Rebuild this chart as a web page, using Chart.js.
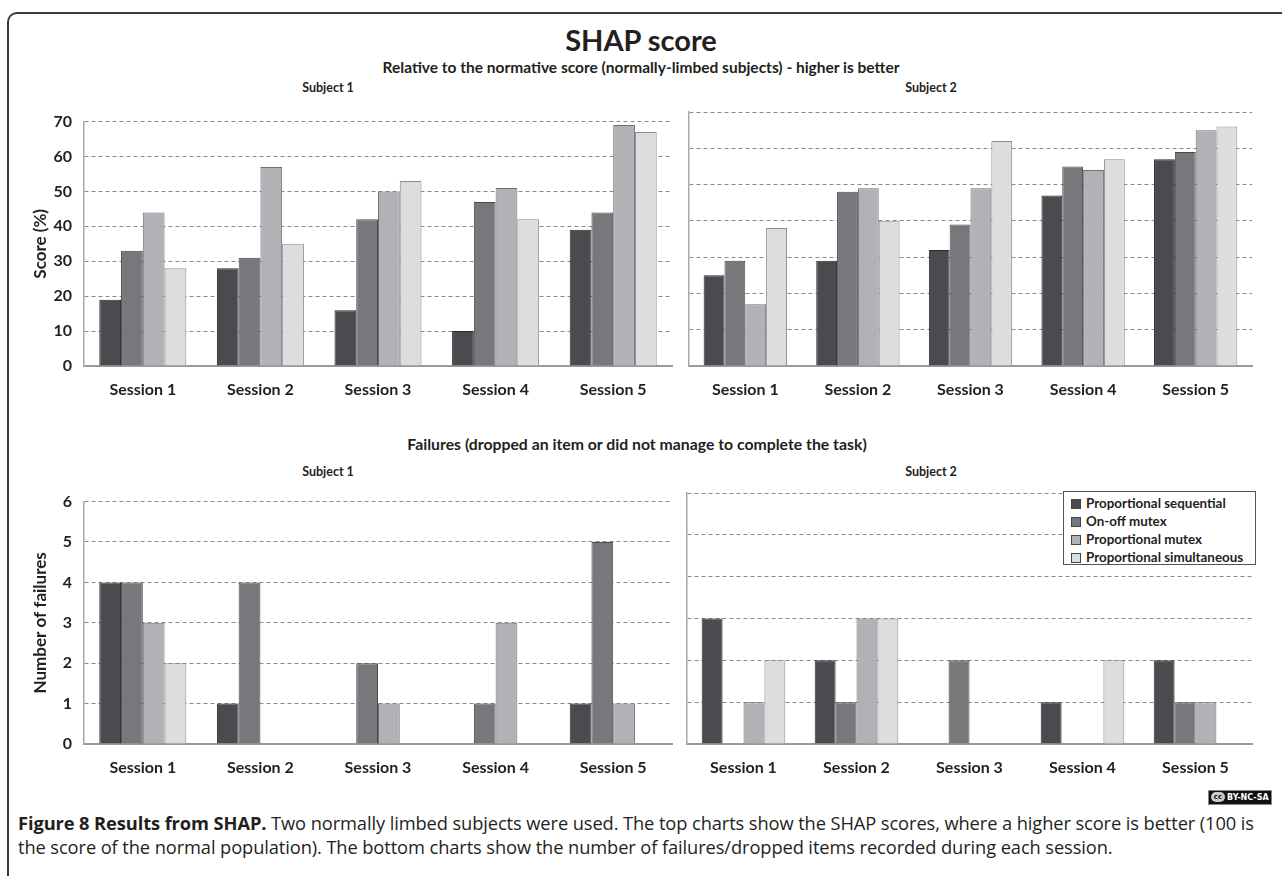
<!DOCTYPE html>
<html>
<head>
<meta charset="utf-8">
<script src="https://cdn.jsdelivr.net/npm/chart.js@4/dist/chart.umd.min.js"></script>
<style>
  html, body { margin: 0; padding: 0; background: #fff; }
  body { width: 1282px; height: 876px; position: relative; overflow: hidden; font-family: Lato, sans-serif; color: #231f20; }
  .frame { position: absolute; left: 7px; top: 12px; width: 1300px; height: 900px;
           border-top: 2px solid #3a3a3a; border-left: 2px solid #3a3a3a; border-top-left-radius: 10px; }
  .txt { position: absolute; white-space: nowrap; font-weight: bold; transform: translateX(-50%); }
  .box { position: absolute; }
  .cap { position: absolute; left: 18px; font-family: "Open Sans", sans-serif; font-size: 18.3px; color: #231f20; white-space: nowrap; letter-spacing: -0.1px; }
  .cc { position: absolute; left: 1208px; top: 790px; width: 64px; height: 15px; background: #111; color: #fff;
        font: bold 8px "DejaVu Sans", sans-serif; line-height: 13px; box-sizing: border-box; border: 1px solid #888; white-space: nowrap; overflow: hidden; }
  .cc span.c { display: inline-block; background: #ccc; color: #111; border-radius: 5px; width: 14px; height: 10px; line-height: 10px;
               text-align: center; margin: 1px 2px 0 2px; vertical-align: top; font-size: 7px; }
  .legend { position: absolute; left: 1063px; top: 491px; width: 193px; height: 74px; box-sizing: border-box;
            border: 1px solid #555; background: #fff; padding: 3px 0 0 7px; }
  .legend div { height: 18px; line-height: 18px; font: bold 13.4px Lato, sans-serif; white-space: nowrap; }
  .legend i { display: inline-block; width: 10px; height: 10px; box-sizing: border-box; border: 1px solid #444; margin-right: 5px; vertical-align: -1px; }
</style>
</head>
<body>
<div class="frame"></div>
<div class="txt" style="left:641px; top:22px; font-size:29px;">SHAP score</div>
<div class="txt" style="left:641px; top:58px; font-size:15.5px;">Relative to the normative score (normally-limbed subjects) - higher is better</div>
<div class="txt" style="left:328px; top:80px; font-size:12.5px;">Subject 1</div>
<div class="txt" style="left:931px; top:80px; font-size:12.5px;">Subject 2</div>
<div class="txt" style="left:637px; top:434px; font-size:15.8px;">Failures (dropped an item or did not manage to complete the task)</div>
<div class="txt" style="left:328px; top:464px; font-size:12.5px;">Subject 1</div>
<div class="txt" style="left:931px; top:464px; font-size:12.5px;">Subject 2</div>

<div class="box" style="left:10px; top:100px; width:670px; height:300px;"><canvas id="c1"></canvas></div>
<div class="box" style="left:680px; top:100px; width:580px; height:300px;"><canvas id="c2"></canvas></div>
<div class="box" style="left:10px; top:480px; width:670px; height:300px;"><canvas id="c3"></canvas></div>
<div class="box" style="left:680px; top:480px; width:580px; height:300px;"><canvas id="c4"></canvas></div>

<div class="legend" id="legend"></div>

<div class="cc"><span class="c">cc</span>BY-NC-SA</div>
<div class="cap" style="top:810px;"><b>Figure 8 Results from SHAP.</b> Two normally limbed subjects were used. The top charts show the SHAP scores, where a higher score is better (100 is</div>
<div class="cap" style="top:834px;">the score of the normal population). The bottom charts show the number of failures/dropped items recorded during each session.</div>

<script>
'use strict';

/* ─── Data ─── */
const sessions    = ['Session 1', 'Session 2', 'Session 3', 'Session 4', 'Session 5'];
const seriesNames = ['Proportional sequential', 'On-off mutex', 'Proportional mutex', 'Proportional simultaneous'];

// SHAP score (%) per series, Subject 1
const score1PropSeq = [19, 28, 16, 10, 39];
const score1OnOff   = [33, 31, 42, 47, 44];
const score1PropMut = [44, 57, 50, 51, 69];
const score1PropSim = [28, 35, 53, 42, 67];

// SHAP score (%) per series, Subject 2
const score2PropSeq = [25, 29, 32, 47, 57];
const score2OnOff   = [29, 48, 39, 55, 59];
const score2PropMut = [17, 49, 49, 54, 65];
const score2PropSim = [38, 40, 62, 57, 66];

// Failures per series, Subject 1
const fail1PropSeq = [4, 1, 0, 0, 1];
const fail1OnOff   = [4, 4, 2, 1, 5];
const fail1PropMut = [3, 0, 1, 3, 1];
const fail1PropSim = [2, 0, 0, 0, 0];

// Failures per series, Subject 2
const fail2PropSeq = [3, 2, 0, 1, 2];
const fail2OnOff   = [0, 1, 2, 0, 1];
const fail2PropMut = [1, 3, 0, 0, 1];
const fail2PropSim = [2, 3, 0, 2, 0];

/* ─── Styles ─── */
const fills   = ['#4a4b4e', '#77787c', '#b1b2b6', '#dcdddf'];
const borders = ['#2a2a2c', '#48494c', '#6f7073', '#8a8b8e'];
const FONT = 'Lato, sans-serif';
const TEXT = '#231f20';

function makeDatasets(lists) {
  return lists.map((data, i) => ({
    label: seriesNames[i],
    data,
    backgroundColor: fills[i],
    borderColor: borders[i],
    borderWidth: 1,
    categoryPercentage: 0.74,
    barPercentage: 1.0
  }));
}

function buildChart(id, lists, opts) {
  const ctx = document.getElementById(id).getContext('2d');
  return new Chart(ctx, {
    type: 'bar',
    data: { labels: sessions, datasets: makeDatasets(lists) },
    options: {
      responsive: true,
      maintainAspectRatio: false,
      animation: false,
      layout: { padding: { top: opts.padTop, right: 8, left: 0, bottom: 0 } },
      plugins: {
        legend: { display: false },
        tooltip: { enabled: false }
      },
      scales: {
        x: {
          grid: { display: false, drawTicks: false },
          border: { display: true, color: '#9a9a9a', width: 2 },
          ticks: { color: TEXT, padding: 14, font: { family: FONT, size: 16, weight: 'bold' } },
          afterFit: s => { s.height = opts.xHeight; }
        },
        y: {
          min: 0, max: opts.max,
          ticks: {
            display: opts.yLabels, stepSize: opts.step, padding: 12,
            color: TEXT, font: { family: FONT, size: 16, weight: 'bold' }
          },
          grid: { color: '#8a8a8a', lineWidth: 1, drawTicks: false },
          border: { display: true, color: '#a8a8a8', width: 1.5, dash: [4, 3] },
          title: opts.yTitle ? {
            display: true, text: opts.yTitle, color: TEXT, padding: { top: 20, bottom: 0 },
            font: { family: FONT, size: 17, weight: 'bold' }
          } : { display: false },
          afterFit: s => { s.width = opts.yWidth; }
        }
      }
    }
  });
}

const common1 = { max: 70, step: 10, padTop: 12, xHeight: 34 };
buildChart('c1', [score1PropSeq, score1OnOff, score1PropMut, score1PropSim],
  Object.assign({}, common1, { yLabels: true, yTitle: 'Score (%)', yWidth: 74 }));
buildChart('c2', [score2PropSeq, score2OnOff, score2PropMut, score2PropSim],
  Object.assign({}, common1, { yLabels: false, yWidth: 9 }));

const common2 = { max: 6, step: 1, padTop: 13, xHeight: 36 };
buildChart('c3', [fail1PropSeq, fail1OnOff, fail1PropMut, fail1PropSim],
  Object.assign({}, common2, { yLabels: true, yTitle: 'Number of failures', yWidth: 74 }));
buildChart('c4', [fail2PropSeq, fail2OnOff, fail2PropMut, fail2PropSim],
  Object.assign({}, common2, { yLabels: false, yWidth: 7 }));

/* ─── Legend ─── */
const legendEl = document.getElementById('legend');
seriesNames.forEach((name, i) => {
  const row = document.createElement('div');
  row.innerHTML = `<i style="background:${fills[i]}"></i>${name}`;
  legendEl.appendChild(row);
});
</script>
</body>
</html>
